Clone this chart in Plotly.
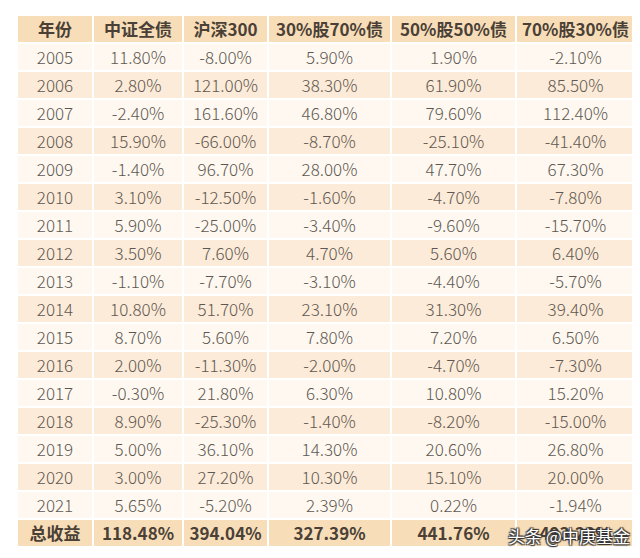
import plotly.graph_objects as go

# 年度收益数据
years = ["2005", "2006", "2007", "2008", "2009", "2010", "2011", "2012", "2013",
         "2014", "2015", "2016", "2017", "2018", "2019", "2020", "2021"]
zz_bond = ["11.80%", "2.80%", "-2.40%", "15.90%", "-1.40%", "3.10%", "5.90%", "3.50%", "-1.10%",
           "10.80%", "8.70%", "2.00%", "-0.30%", "8.90%", "5.00%", "3.00%", "5.65%"]
hs300 = ["-8.00%", "121.00%", "161.60%", "-66.00%", "96.70%", "-12.50%", "-25.00%", "7.60%", "-7.70%",
         "51.70%", "5.60%", "-11.30%", "21.80%", "-25.30%", "36.10%", "27.20%", "-5.20%"]
mix_30_70 = ["5.90%", "38.30%", "46.80%", "-8.70%", "28.00%", "-1.60%", "-3.40%", "4.70%", "-3.10%",
             "23.10%", "7.80%", "-2.00%", "6.30%", "-1.40%", "14.30%", "10.30%", "2.39%"]
mix_50_50 = ["1.90%", "61.90%", "79.60%", "-25.10%", "47.70%", "-4.70%", "-9.60%", "5.60%", "-4.40%",
             "31.30%", "7.20%", "-4.70%", "10.80%", "-8.20%", "20.60%", "15.10%", "0.22%"]
mix_70_30 = ["-2.10%", "85.50%", "112.40%", "-41.40%", "67.30%", "-7.80%", "-15.70%", "6.40%", "-5.70%",
             "39.40%", "6.50%", "-7.30%", "15.20%", "-15.00%", "26.80%", "20.00%", "-1.94%"]

headers = ["年份", "中证全债", "沪深300", "30%股70%债", "50%股50%债", "70%股30%债"]
totals = ["总收益", "118.48%", "394.04%", "327.39%", "441.76%", "493.22%"]

columns = [years, zz_bond, hs300, mix_30_70, mix_50_50, mix_70_30]
col_widths = [76, 90, 85, 123, 125, 119]

header_color = "#F7DDB8"
odd_color = "#FEF8F0"
even_color = "#FCEBD8"
n = len(years)
row_colors = [odd_color if i % 2 == 0 else even_color for i in range(n)]

bold_font = dict(family="Noto Sans CJK SC", size=17, color="#4a4036", weight="bold")

fig = go.Figure()

# 主表
fig.add_trace(go.Table(
    columnwidth=col_widths,
    header=dict(
        values=headers,
        fill_color=header_color,
        line=dict(color="white", width=2),
        align="center",
        height=28,
        font=bold_font,
    ),
    cells=dict(
        values=columns,
        fill_color=[row_colors] * 6,
        line=dict(color="white", width=2),
        align="center",
        height=28,
        font=dict(family="Noto Sans CJK SC", size=17, color="#5f5852", weight=300),
    ),
    domain=dict(x=[9 / 640, 627 / 640], y=[0, 1 - 7 / 558]),
))

# 总收益行
fig.add_trace(go.Table(
    columnwidth=col_widths,
    header=dict(
        values=totals,
        fill_color=header_color,
        line=dict(color="white", width=2),
        align="center",
        height=28,
        font=bold_font,
    ),
    cells=dict(values=[]),
    domain=dict(x=[9 / 640, 627 / 640], y=[0, 1 - 511 / 558]),
))

# 水印
fig.add_annotation(
    text="头条 @中庚基金", x=624 / 640, y=(558 - 527) / 558, xref="paper", yref="paper",
    xanchor="right", yanchor="middle", showarrow=False,
    font=dict(family="Noto Sans CJK SC", size=17, color="white",
              shadow="1px 1px 1px #333, -1px -1px 1px #333, 1px -1px 1px #333, -1px 1px 1px #333"),
)

fig.update_layout(
    width=640, height=558,
    margin=dict(l=0, r=0, t=0, b=0),
    paper_bgcolor="white",
)

fig.write_html("out.html")
